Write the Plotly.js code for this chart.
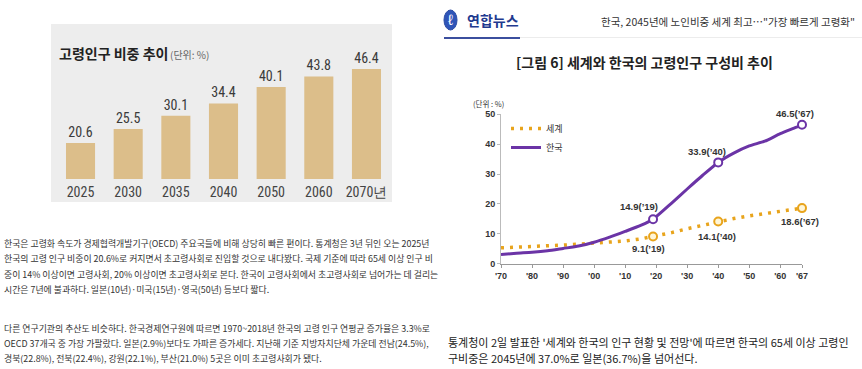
<!DOCTYPE html>
<html>
<head>
<meta charset="utf-8">
<script src="https://cdn.plot.ly/plotly-3.0.1.min.js"></script>
<style>
html,body{margin:0;padding:0;background:#fff;}
#chart{width:862px;height:369px;}
</style>
</head>
<body>
<div id="chart"></div>
<script>
// ---------- DATA ----------
const barYears = ['2025', '2030', '2035', '2040', '2050', '2060', '2070년'];
const barValues = [20.6, 25.5, 30.1, 34.4, 40.1, 43.8, 46.4];

const lineYears   = [1970, 1975, 1980, 1985, 1990, 1995, 2000, 2005, 2010, 2015, 2019, 2025, 2030, 2035, 2040, 2045, 2050, 2055, 2060, 2065, 2067];
const koreaValues = [3.1, 3.5, 3.8, 4.3, 5.1, 5.9, 7.2, 8.9, 10.8, 12.8, 14.9, 20.3, 25.0, 29.6, 33.9, 37.0, 39.4, 41.0, 43.5, 45.6, 46.5];
const worldValues = [5.3, 5.6, 5.9, 6.0, 6.2, 6.5, 6.9, 7.3, 7.6, 8.3, 9.1, 10.4, 11.7, 12.9, 14.1, 15.1, 16.0, 16.8, 17.6, 18.3, 18.6];
const markYears = [2019, 2040, 2067];

const xTickVals = [1970, 1980, 1990, 2000, 2010, 2020, 2030, 2040, 2050, 2060, 2067];
const xTickText = ["'70", "'80", "'90", "'00", "'10", "'20", "'30", "'40", "'50", "'60", "'67"];
const yTickVals = [0, 10, 20, 30, 40, 50];

const leftLines1 = [
  '한국은 고령화 속도가 경제협력개발기구(OECD) 주요국들에 비해 상당히 빠른 편이다. 통계청은 3년 뒤인 오는 2025년',
  '한국의 고령 인구 비중이 20.6%로 커지면서 초고령사회로 진입할 것으로 내다봤다. 국제 기준에 따라 65세 이상 인구 비',
  '중이 14% 이상이면 고령사회, 20% 이상이면 초고령사회로 본다. 한국이 고령사회에서 초고령사회로 넘어가는 데 걸리는',
  '시간은 7년에 불과하다. 일본(10년)·미국(15년)·영국(50년) 등보다 짧다.'
];
const leftLines2 = [
  '다른 연구기관의 추산도 비슷하다. 한국경제연구원에 따르면 1970~2018년 한국의 고령 인구 연평균 증가율은 3.3%로',
  'OECD 37개국 중 가장 가팔랐다. 일본(2.9%)보다도 가파른 증가세다. 지난해 기준 지방자치단체 가운데 전남(24.5%),',
  '경북(22.8%), 전북(22.4%), 강원(22.1%), 부산(21.0%) 5곳은 이미 초고령사회가 됐다.'
];
const rightLines = [
  "통계청이 2일 발표한 '세계와 한국의 인구 현황 및 전망'에 따르면 한국의 65세 이상 고령인",
  '구비중은 2045년에 37.0%로 일본(36.7%)을 넘어선다.'
];

const barTitle = '고령인구 비중 추이';
const barUnit = '(단위: %)';
const lineUnit = '(단위 : %)';
const figTitle = '[그림 6] 세계와 한국의 고령인구 구성비 추이';
const brand = '연합뉴스';
const headline = '한국, 2045년에 노인비중 세계 최고…"가장 빠르게 고령화"';
const seriesNames = ['세계', '한국'];

// ---------- HELPERS ----------
const W = 862, H = 369;
const X = p => p / W;
const Y = p => 1 - p / H;
const KR = '"Noto Sans CJK KR", "Noto Sans", sans-serif';
const NARROW = '"Liberation Sans Narrow", "Arial Narrow", "Roboto Condensed", Roboto, sans-serif';
const SANS = '"Liberation Sans", Arial, sans-serif';

const PURPLE = '#6b34a6';
const ORANGE = '#e8a41c';

const pick = (vals) => markYears.map(y => vals[lineYears.indexOf(y)]);

// ---------- TRACES ----------
const traces = [
  {
    type: 'bar', x: barYears, y: barValues, xaxis: 'x', yaxis: 'y',
    marker: {color: '#dcbe8a'},
    text: barValues.map(v => v.toFixed(1)), textposition: 'outside',
    textfont: {family: NARROW, size: 14, color: '#3a3a3a'},
    cliponaxis: false, showlegend: false, hoverinfo: 'skip'
  },
  {
    type: 'scatter', mode: 'lines', name: seriesNames[0],
    x: lineYears, y: worldValues, xaxis: 'x2', yaxis: 'y2',
    line: {color: ORANGE, width: 3.5, dash: '3px,6px'},
    cliponaxis: false, hoverinfo: 'skip'
  },
  {
    type: 'scatter', mode: 'lines', name: seriesNames[1],
    x: lineYears, y: koreaValues, xaxis: 'x2', yaxis: 'y2',
    line: {color: PURPLE, width: 3, shape: 'spline', smoothing: 0.6},
    cliponaxis: false, hoverinfo: 'skip'
  },
  {
    type: 'scatter', mode: 'markers', showlegend: false,
    x: markYears, y: pick(worldValues), xaxis: 'x2', yaxis: 'y2',
    marker: {symbol: 'circle', size: 8, color: '#fff6d8', line: {color: ORANGE, width: 2}},
    cliponaxis: false, hoverinfo: 'skip'
  },
  {
    type: 'scatter', mode: 'markers', showlegend: false,
    x: markYears, y: pick(koreaValues), xaxis: 'x2', yaxis: 'y2',
    marker: {symbol: 'circle', size: 8, color: '#ffffff', line: {color: PURPLE, width: 2}},
    cliponaxis: false, hoverinfo: 'skip'
  }
];

// ---------- ANNOTATIONS ----------
const ann = [];
const txt = (text, x, y, size, opts = {}) => ann.push(Object.assign({
  text, x: X(x), y: Y(y), xref: 'paper', yref: 'paper',
  xanchor: 'left', yanchor: 'middle', showarrow: false,
  font: {family: KR, size, color: '#333'}
}, opts));

// bar chart title
txt('<b>' + barTitle + '</b>', 57, 53, 14, {font: {family: KR, size: 14, color: '#222'}});
txt(barUnit, 168, 54, 10, {font: {family: KR, size: 10, color: '#666'}});

// left article text
[243.5, 258.7, 274, 289.2].forEach((y, i) => txt(leftLines1[i], 2, y, 8.9, {font: {family: KR, size: 8.9, color: '#333'}}));
[328.3, 343, 358.3].forEach((y, i) => txt(leftLines2[i], 2, y, 8.9, {font: {family: KR, size: 8.9, color: '#333'}}));

// right header
txt('<b>' + brand + '</b>', 465, 20, 14, {font: {family: KR, size: 14, color: '#1f3a8f'}});
txt('ℓ', 450.5, 20, 14, {xanchor: 'center', font: {family: SANS, size: 15, color: '#ffffff'}});
txt(headline, 857, 22, 10.5, {xanchor: 'right', font: {family: KR, size: 10.5, color: '#333'}});
txt('<b>' + figTitle + '</b>', 644, 62, 14, {xanchor: 'center', font: {family: KR, size: 14, color: '#222'}});
txt(lineUnit, 471, 103, 7.5, {font: {family: KR, size: 7.5, color: '#333'}});

// right article text
[341.7, 358.3].forEach((y, i) => txt(rightLines[i], 446, y, 11, {font: {family: KR, size: 11, color: '#222'}}));

// point labels
const labelFont = {family: SANS, size: 9.5, color: '#333'};
const kOff = [[-14, 12.5], [-11, 11], [-7, 11]];
const wOff = [[-5, -11.5], [-1, -15], [-2, -13.6]];
markYears.forEach((yr, i) => {
  const yy = String(yr).slice(2);
  const kv = pick(koreaValues)[i], wv = pick(worldValues)[i];
  ann.push({x: yr, y: kv, xref: 'x2', yref: 'y2', text: '<b>' + kv.toFixed(1) + '(’' + yy + ')</b>',
    showarrow: false, xshift: kOff[i][0], yshift: kOff[i][1], font: labelFont});
  ann.push({x: yr, y: wv, xref: 'x2', yref: 'y2', text: '<b>' + wv.toFixed(1) + '(’' + yy + ')</b>',
    showarrow: false, xshift: wOff[i][0], yshift: wOff[i][1], font: labelFont});
});

// ---------- SHAPES ----------
const shapes = [
  {type: 'rect', xref: 'paper', yref: 'paper', x0: X(51), x1: X(392), y0: Y(202), y1: Y(24),
   fillcolor: '#ededed', line: {width: 0}, layer: 'below'},
  {type: 'line', xref: 'paper', yref: 'paper', x0: X(444), x1: X(862), y0: Y(37.5), y1: Y(37.5),
   line: {color: '#ececec', width: 1}},
  {type: 'line', xref: 'paper', yref: 'paper', x0: X(444), x1: X(520), y0: Y(38), y1: Y(38),
   line: {color: '#3b4f9e', width: 2}},
  {type: 'circle', xref: 'paper', yref: 'paper', x0: X(444), x1: X(457), y0: Y(30), y1: Y(10),
   fillcolor: '#2f55b8', line: {color: '#2a4aa3', width: 1}}
];

// ---------- LAYOUT ----------
const layout = {
  width: W, height: H,
  margin: {l: 0, r: 0, t: 0, b: 0},
  paper_bgcolor: '#ffffff', plot_bgcolor: 'rgba(0,0,0,0)',
  bargap: 0.39,
  showlegend: true,
  legend: {x: X(506), y: Y(114), xanchor: 'left', yanchor: 'top', bgcolor: 'rgba(0,0,0,0)',
    font: {family: KR, size: 9, color: '#333'}, traceorder: 'normal', itemwidth: 30},
  xaxis: {domain: [X(56.7), X(390.3)], anchor: 'y', type: 'category',
    tickfont: {family: NARROW, size: 14, color: '#444'}, showline: false, showgrid: false,
    zeroline: false, ticks: '', ticklabelstandoff: 3, fixedrange: true},
  yaxis: {domain: [Y(179), Y(24)], anchor: 'x', range: [8.05, 62.1], visible: false, fixedrange: true},
  xaxis2: {domain: [X(501), X(802)], anchor: 'y2', range: [1970, 2067],
    tickmode: 'array', tickvals: xTickVals, ticktext: xTickText,
    tickfont: {family: SANS, size: 9, color: '#333', weight: 'bold'},
    showline: true, linecolor: '#999', linewidth: 1, ticks: 'outside', ticklen: 3, tickcolor: '#999',
    showgrid: false, zeroline: false, fixedrange: true},
  yaxis2: {domain: [Y(263.7), Y(114.3)], anchor: 'x2', range: [0, 50],
    tickmode: 'array', tickvals: yTickVals,
    tickfont: {family: SANS, size: 9, color: '#333', weight: 'bold'},
    showline: true, linecolor: '#bbb', linewidth: 1, ticks: 'outside', ticklen: 3, tickcolor: '#bbb',
    showgrid: false, zeroline: false, fixedrange: true},
  annotations: ann,
  shapes: shapes
};

Plotly.newPlot('chart', traces, layout, {displayModeBar: false, staticPlot: true});
</script>
</body>
</html>
